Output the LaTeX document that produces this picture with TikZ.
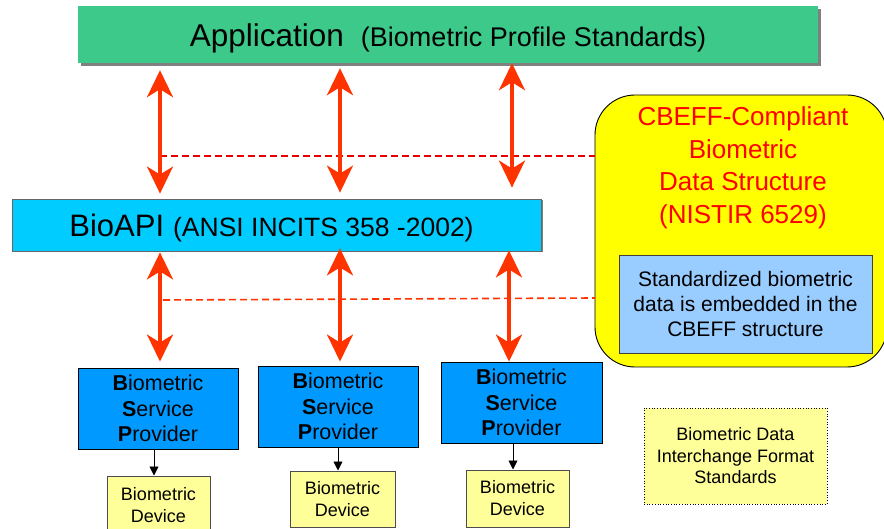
\documentclass[tikz,border=0pt]{standalone}
\usepackage{fontspec}
\setmainfont{Liberation Sans}
\usetikzlibrary{arrows.meta,shadows}
\definecolor{appgreen}{RGB}{60,201,138}
\definecolor{biocyan}{RGB}{0,204,255}
\definecolor{bspblue}{RGB}{0,153,255}
\definecolor{cbyellow}{RGB}{255,255,0}
\definecolor{innerblue}{RGB}{153,204,255}
\definecolor{devyellow}{RGB}{255,255,153}
\definecolor{arrowred}{RGB}{255,51,0}
\definecolor{dashred}{RGB}{235,0,0}
\definecolor{shadowgray}{RGB}{128,128,128}
\begin{document}
\begin{tikzpicture}[x=1pt,y=-1pt,
  box/.style={rectangle, inner sep=0pt, align=center},
  bigarrow/.style={draw=arrowred, line width=3.5pt,
    {Stealth[length=27pt,width=26pt,inset=8pt]}-{Stealth[length=27pt,width=26pt,inset=8pt]}},
  smallarrow/.style={draw=black, line width=0.9pt, -{Triangle[length=9pt,width=9pt]}},
  dashline/.style={line width=1.6pt, dash pattern=on 7pt off 4pt},
  bspbox/.style={box, fill=bspblue, draw=black, line width=0.9pt, minimum height=81pt,
    font=\fontsize{21.5}{25.5}\selectfont},
  devbox/.style={box, fill=devyellow, draw=black!70, line width=1pt,
    font=\fontsize{18}{22}\selectfont},
]
\useasboundingbox (0,0) rectangle (884,529);
\clip (0,0) rectangle (884,529);

% main boxes
\node[box, fill=appgreen, minimum width=740pt, minimum height=57pt,
  text height=25pt, text depth=0pt,
  drop shadow={shadow xshift=3pt, shadow yshift=-3pt, fill=shadowgray, opacity=1}]
  (app) at (448,34.5)
  {{\fontsize{31.5}{36}\selectfont Application}\hspace{17pt}{\fontsize{27}{30}\selectfont (Biometric Profile Standards)}};

\node[box, fill=biocyan, draw=black!60, line width=0.8pt, minimum width=529pt, minimum height=52pt,
  text height=24pt, text depth=0pt,
  drop shadow={shadow xshift=1.5pt, shadow yshift=-1.5pt, fill=shadowgray, opacity=1}]
  (bio) at (276.5,225)
  {\hspace{-10pt}{\fontsize{31}{36}\selectfont BioAPI}\hspace{9pt}{\fontsize{26.5}{30}\selectfont (ANSI INCITS 358 -2002)}};

\node[box, fill=cbyellow, draw=black, line width=0.9pt, rounded corners=40pt,
  minimum width=292pt, minimum height=272pt] (ybox) at (741,231) {};
\node[box, text=red, font=\fontsize{26}{32.5}\selectfont] (ytext) at (743,168)
  {CBEFF-Compliant\\Biometric\\Data Structure\\(NISTIR 6529)};
\node[box, fill=innerblue, draw=black!75, line width=0.9pt, minimum width=253pt, minimum height=98pt,
  font=\fontsize{21}{25}\selectfont] (inner) at (745.5,304)
  {Standardized biometric\\data is embedded in the\\CBEFF structure};

% BSPs
\node[bspbox, minimum width=160pt] (bsp1) at (158,408.5)
  {\textbf{B}iometric\\\textbf{S}ervice\\\textbf{P}rovider};
\node[bspbox, minimum width=160pt] (bsp2) at (338,406.5)
  {\textbf{B}iometric\\\textbf{S}ervice\\\textbf{P}rovider};
\node[bspbox, minimum width=161pt] (bsp3) at (521.5,402.5)
  {\textbf{B}iometric\\\textbf{S}ervice\\\textbf{P}rovider};

% devices
\node[devbox, minimum width=103pt, minimum height=58pt] (dev1) at (158.5,505)
  {\raisebox{-5pt}{\parbox{100pt}{\centering Biometric\\Device}}};
\node[devbox, minimum width=105pt, minimum height=56pt] (dev2) at (342.5,499) {Biometric\\Device};
\node[devbox, minimum width=103pt, minimum height=57pt] (dev3) at (517.5,498.5) {Biometric\\Device};

\node[box, fill=devyellow, draw=black, line width=0.7pt, dotted, minimum width=183pt, minimum height=96pt,
  font=\fontsize{18}{21.5}\selectfont] (std) at (735.5,456)
  {Biometric Data\\Interchange Format\\Standards};

% column coordinates
\coordinate (c1) at (160,0);
\coordinate (c2) at (340,0);
\coordinate (c3) at (512,0);
\coordinate (c3b) at (509,0);

% dashed lines
\coordinate (u1) at (160,156);
\draw[dashline, draw=dashred] (u1) -- (ybox.west |- u1);
\coordinate (l1) at (163,300);
\coordinate (l2) at (595,298);
\draw[dashline, draw=arrowred] (l1) -- (l2);

% big arrows
\draw[bigarrow, shorten <=7pt, shorten >=5pt] (app.south -| c1) -- (bio.north -| c1);
\draw[bigarrow, shorten <=5pt, shorten >=6pt] (app.south -| c2) -- (bio.north -| c2);
\draw[bigarrow, shorten <=0pt, shorten >=11pt] (app.south -| c3) -- (bio.north -| c3);

\draw[bigarrow, shorten <=1pt, shorten >=6pt] (bio.south -| c1) -- (bsp1.north -| c1);
\draw[bigarrow, shorten <=-3pt, shorten >=4pt] (bio.south -| c2) -- (bsp2.north -| c2);
\draw[bigarrow, shorten <=-1pt, shorten >=0pt] (bio.south -| c3b) -- (bsp3.north -| c3b);

% small arrows
\draw[smallarrow] ([xshift=-4pt]bsp1.south) -- ([xshift=-4.5pt]dev1.north);
\draw[smallarrow] (bsp2.south) -- ([xshift=-4.5pt]dev2.north);
\draw[smallarrow] ([xshift=-8.5pt]bsp3.south) -- ([xshift=-4.5pt]dev3.north);
\end{tikzpicture}
\end{document}
